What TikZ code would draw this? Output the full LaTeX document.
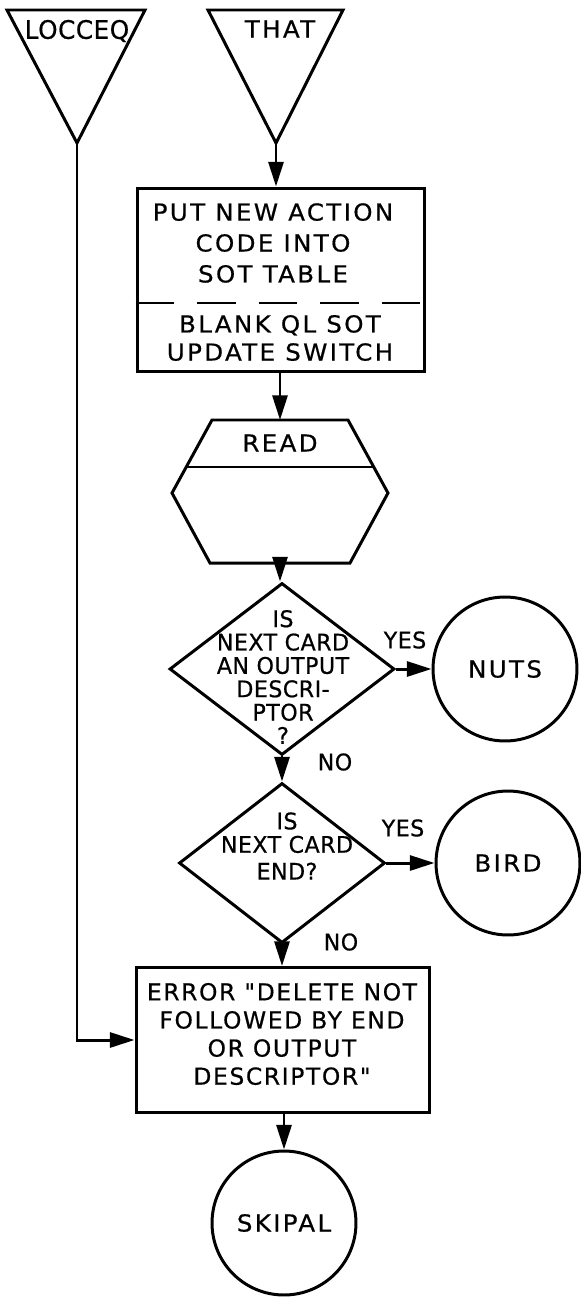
\documentclass[tikz,border=0pt]{standalone}
\usepackage{fontspec}
\newfontfamily\lettering{DejaVu Sans}[LetterSpace=10,FakeStretch=1.05,FakeBold=0.6]
\newfontfamily\plainlettering{DejaVu Sans}[LetterSpace=7,FakeBold=0.6]
\newfontfamily\tightlettering{DejaVu Sans}[LetterSpace=2,FakeStretch=0.97,FakeBold=0.6]
\usepackage{tikz}
\usetikzlibrary{positioning, arrows.meta, shapes.geometric, calc}

\begin{document}
\begin{tikzpicture}[
    x=0.02cm, y=-0.02cm,
    line width=1.7pt,
    flow/.style={-{Triangle[length=14pt, width=8.5pt]}},
    procbox/.style={draw, rectangle, inner sep=0pt},
    decision/.style={draw, diamond, inner sep=0pt},
    connector/.style={draw, circle, inner sep=0pt, minimum size=2.88cm, font=\lettering\fontsize{13.3}{16}\selectfont},
    txt/.style={font=\lettering\fontsize{13.3}{16}\selectfont, align=center, inner sep=0pt},
    errtext/.style={font=\plainlettering\fontsize{13.3}{16}\selectfont, align=center, inner sep=0pt},
    qtxt/.style={font=\tightlettering\fontsize{13}{13.3}\selectfont, align=center, inner sep=0pt},
    branch/.style={font=\tightlettering\fontsize{13}{14}\selectfont, inner sep=0pt},
    divider/.style={dash pattern=on 22pt off 13pt, dash phase=0pt},
]
\useasboundingbox (0,0) rectangle (581,1298);

% entry triangles
\draw (7,10) -- (145,10) -- (77,143) coordinate (locceqtip) -- cycle;
\node[branch, font=\tightlettering\fontsize{14.5}{15}\selectfont] (locceq) at (77,31) {LOCCEQ};
\draw (208,10) -- (343,10) -- (276,143) coordinate (thattip) -- cycle;
\node[txt] (that) at (280,29) {THAT};

% sot table box
\node[procbox, minimum width=5.76cm, minimum height=3.68cm] (sotbox) at (281,280) {};
\node[txt, font=\lettering\fontsize{13.3}{17.6}\selectfont] (sottxt) at (273,243) {PUT NEW ACTION\\CODE INTO\\SOT TABLE};
\draw[divider] (sotbox.west |- 0,303) -- (sotbox.east |- 0,303);
\node[txt] (blanktxt) at (280,338) {BLANK QL SOT\\UPDATE SWITCH};

% read
\coordinate (readtop) at (280,420);
\coordinate (readbot) at (280,563);
\draw (212,420) -- (348,420) -- (388,493) -- (350,563) -- (210,563) -- (172,493) -- cycle;
\draw (186,467) -- (374,467);
\node[txt] (read) at (280,443) {READ};

% decisions
\node[decision, minimum width=4.5cm, minimum height=3.44cm] (q1) at (282,669) {};
\node[qtxt] (q1txt) at (283,677) {IS\\NEXT CARD\\AN OUTPUT\\DESCRI-\\PTOR\\?};
\node[decision, minimum width=4.12cm, minimum height=3.2cm] (q2) at (282,863) {};
\node[qtxt] (q2txt) at (287,846) {IS\\NEXT CARD\\[2pt]END?};

\node[connector] (nuts) at (505,669) {NUTS};
\node[connector] (bird) at (508,863) {BIRD};

\node[branch] (yes1) at (405,640) {YES};
\node[branch] (no1) at (335,762) {NO};
\node[branch] (yes2) at (403,828) {YES};
\node[branch] (no2) at (341,942) {NO};

% error box
\node[procbox, minimum width=5.88cm, minimum height=2.9cm] (errbox) at (283,1040) {};
\node[errtext] (errtxt) at (282,1034) {ERROR "DELETE NOT\\FOLLOWED BY END\\OR OUTPUT\\DESCRIPTOR"};

\node[connector] (skipal) at (284,1223) {SKIPAL};

% connectors
\draw[flow] (thattip) -- (thattip |- sotbox.north);
\draw[flow] (sotbox.south -| readtop) -- (readtop);
\draw[flow] (readbot) -- (readbot |- q1.north);
\draw[flow] (q1.east) -- (nuts.west);
\draw[flow] (q1.south) -- (q2.north);
\draw[flow] (q2.east) -- (bird.west);
\draw[flow] (q2.south) -- (q2.south |- errbox.north);
\draw[flow] (locceqtip) |- (errbox.west);
\draw[flow] (errbox.south -| skipal) -- (skipal.north);
\end{tikzpicture}
\end{document}
